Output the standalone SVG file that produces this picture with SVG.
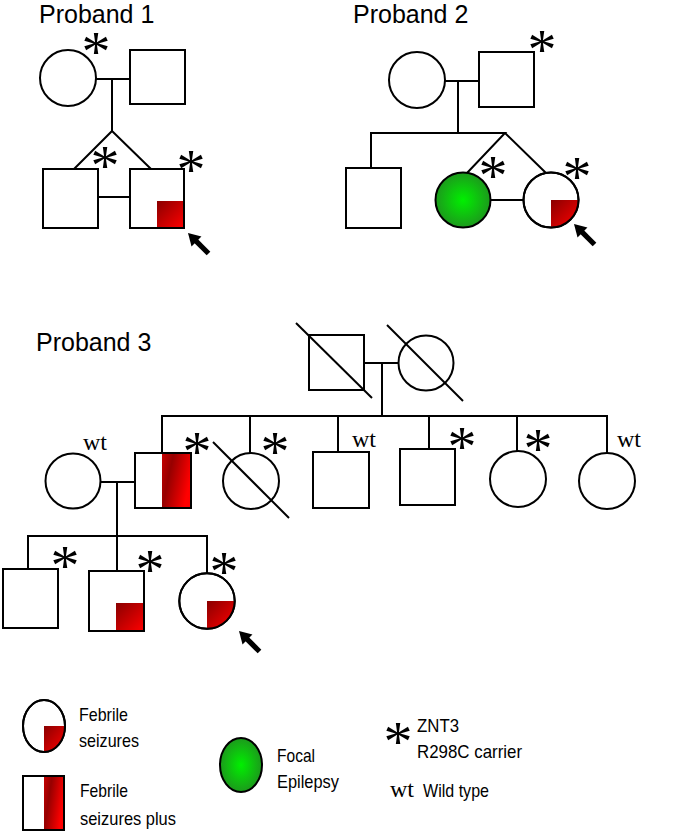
<svg xmlns="http://www.w3.org/2000/svg" width="685" height="834" viewBox="0 0 685 834">
<style>
.s{fill:#fff;stroke:#000;stroke-width:2}
.n{fill:none;stroke:#000;stroke-width:2}
.ln{stroke:#000;stroke-width:2;fill:none}
.red{fill:url(#rg);stroke:none}
.redh{fill:url(#rh);stroke:none}
.t{font-family:"Liberation Sans",Arial,sans-serif;fill:#000}
.title{font-size:25px}
.lg{font-size:19px}
.ast{font-family:"Liberation Serif","Times New Roman",serif;font-size:58px;text-anchor:middle;fill:#000}
.wt{font-family:"Liberation Serif","Times New Roman",serif;font-size:24px;fill:#000}
</style>
<defs>
<linearGradient id="rg" x1="0" y1="0" x2="1" y2="1">
<stop offset="0" stop-color="#8a0000"/>
<stop offset="1" stop-color="#ff0000"/>
</linearGradient>
<linearGradient id="rh" x1="0" y1="0" x2="1" y2="0.4">
<stop offset="0" stop-color="#c80000"/>
<stop offset="0.35" stop-color="#960000"/>
<stop offset="1" stop-color="#ff0000"/>
</linearGradient>
<radialGradient id="gg" cx="0.5" cy="0.5" r="0.5">
<stop offset="0" stop-color="#00f000"/>
<stop offset="1" stop-color="#1c9a1c"/>
</radialGradient>
<g id="arrow">
<rect x="9" y="-2.6" width="20" height="5.2" fill="#000"/>
<polygon points="0,0 12,-7 12,7" fill="#000"/>
</g>
</defs>

<!-- Titles -->
<text class="t title" x="39" y="23">Proband 1</text>
<text class="t title" x="353" y="23">Proband 2</text>
<text class="t title" x="36" y="351">Proband 3</text>

<!-- Connectors -->
<g id="connectors">
<path class="ln" d="M96,79 H130 M112,79 V131 L74,169 M112,131 L151,169 M98,197 H130"/>
<path class="ln" d="M445,81 H479 M458,81 V133 M371,168 V133 H505 L467,173 M505,133 L546,173 M491,200 H523"/>
<path class="ln" d="M364,363 H398 M382,363 V416 M162,453 V416 H608 M250,416 V453 M338,416 V452 M429,416 V449 M517,416 V451 M607,416 V453"/>
<path class="ln" d="M101,482 H135 M117,482 V536 M28,569 V536 H207 V573 M117,536 V571"/>
</g>

<!-- Proband 1 nodes -->
<g id="p1-mother"><circle class="s" cx="68" cy="78" r="28"/><text class="ast" x="96" y="71">*</text></g>
<g id="p1-father"><rect class="s" x="130" y="50" width="55" height="54"/></g>
<g id="p1-twin1"><rect class="s" x="43" y="169" width="55" height="59"/><text class="ast" x="105" y="185">*</text></g>
<g id="p1-proband"><rect class="s" x="130" y="169" width="54" height="59"/><rect class="red" x="157" y="201" width="27" height="27"/><rect class="n" x="130" y="169" width="54" height="59"/><text class="ast" x="191" y="189">*</text><use href="#arrow" transform="translate(188,233) rotate(45)"/></g>

<!-- Proband 2 nodes -->
<g id="p2-mother"><circle class="s" cx="417" cy="80" r="28"/></g>
<g id="p2-father"><rect class="s" x="479" y="52" width="55" height="55"/><text class="ast" x="542" y="69">*</text></g>
<g id="p2-brother"><rect class="s" x="346" y="168" width="55" height="60"/></g>
<g id="p2-twin-fe"><circle cx="463" cy="200" r="27.5" fill="url(#gg)" stroke="#000" stroke-width="2"/><text class="ast" x="493" y="195">*</text></g>
<g id="p2-proband"><circle class="s" cx="551" cy="200" r="27.5"/><path class="red" d="M551,200 H578.5 A27.5,27.5 0 0 1 551,227.5 Z"/><circle class="n" cx="551" cy="200" r="27.5"/><text class="ast" x="577" y="196">*</text><use href="#arrow" transform="translate(574,224) rotate(45)"/></g>

<!-- Proband 3 nodes -->
<g id="p3-grandfather"><rect class="s" x="309" y="335" width="55" height="55"/><line class="ln" x1="296" y1="323" x2="372" y2="398"/></g>
<g id="p3-grandmother"><circle class="s" cx="426" cy="363" r="27.5"/><line class="ln" x1="387" y1="325" x2="463" y2="401"/></g>
<g id="p3-spouse"><circle class="s" cx="73" cy="481" r="27.5"/><text class="wt" x="83" y="450">wt</text></g>
<g id="p3-father"><rect class="s" x="135" y="453" width="56" height="55"/><rect class="redh" x="162" y="453" width="29" height="55"/><rect class="n" x="135" y="453" width="56" height="55"/><text class="ast" x="197" y="471">*</text></g>
<g id="p3-aunt1"><circle class="s" cx="251" cy="481" r="28"/><line class="ln" x1="213" y1="442" x2="289" y2="518"/><text class="ast" x="275" y="471">*</text></g>
<g id="p3-uncle1"><rect class="s" x="313" y="452" width="56" height="56"/><text class="wt" x="352" y="447">wt</text></g>
<g id="p3-uncle2"><rect class="s" x="400" y="449" width="55" height="56"/><text class="ast" x="462" y="466">*</text></g>
<g id="p3-aunt2"><circle class="s" cx="518" cy="479" r="28"/><text class="ast" x="538" y="468">*</text></g>
<g id="p3-aunt3"><circle class="s" cx="607" cy="481" r="28"/><text class="wt" x="617" y="447">wt</text></g>
<g id="p3-sib1"><rect class="s" x="3" y="569" width="55" height="59"/><text class="ast" x="65" y="585">*</text></g>
<g id="p3-sib2"><rect class="s" x="89" y="571" width="55" height="60"/><rect class="red" x="116" y="603" width="28" height="28"/><rect class="n" x="89" y="571" width="55" height="60"/><text class="ast" x="150" y="589">*</text></g>
<g id="p3-proband"><circle class="s" cx="207" cy="601" r="27.7"/><path class="red" d="M207,601 H234.7 A27.7,27.7 0 0 1 207,628.7 Z"/><circle class="n" cx="207" cy="601" r="27.7"/><text class="ast" x="224" y="591">*</text><use href="#arrow" transform="translate(239,631) rotate(45)"/></g>

<!-- Legend -->
<g id="legend-fs"><ellipse class="s" cx="44" cy="726" rx="21" ry="26"/><path class="red" d="M44,726 H65 A21,26 0 0 1 44,752 Z"/><ellipse class="n" cx="44" cy="726" rx="21" ry="26"/><text class="t lg" x="79" y="721" textLength="49" lengthAdjust="spacingAndGlyphs">Febrile</text><text class="t lg" x="79" y="747" textLength="60" lengthAdjust="spacingAndGlyphs">seizures</text></g>
<g id="legend-fsplus"><rect class="s" x="23" y="776" width="41" height="54"/><rect class="redh" x="44" y="776" width="20" height="54"/><rect class="n" x="23" y="776" width="41" height="54"/><text class="t lg" x="80" y="797" textLength="48" lengthAdjust="spacingAndGlyphs">Febrile</text><text class="t lg" x="80" y="825" textLength="96" lengthAdjust="spacingAndGlyphs">seizures plus</text></g>
<g id="legend-fe"><ellipse cx="241" cy="765" rx="21" ry="27" fill="url(#gg)" stroke="#000" stroke-width="2"/><text class="t lg" x="277" y="762" textLength="38" lengthAdjust="spacingAndGlyphs">Focal</text><text class="t lg" x="277" y="788" textLength="62" lengthAdjust="spacingAndGlyphs">Epilepsy</text></g>
<g id="legend-carrier"><text class="ast" x="398" y="761">*</text><text class="t lg" x="417" y="732" textLength="42" lengthAdjust="spacingAndGlyphs">ZNT3</text><text class="t lg" x="417" y="758" textLength="105" lengthAdjust="spacingAndGlyphs">R298C carrier</text></g>
<g id="legend-wt"><text class="wt" x="390" y="797">wt</text><text class="t lg" x="423" y="797" textLength="66" lengthAdjust="spacingAndGlyphs">Wild type</text></g>
</svg>
